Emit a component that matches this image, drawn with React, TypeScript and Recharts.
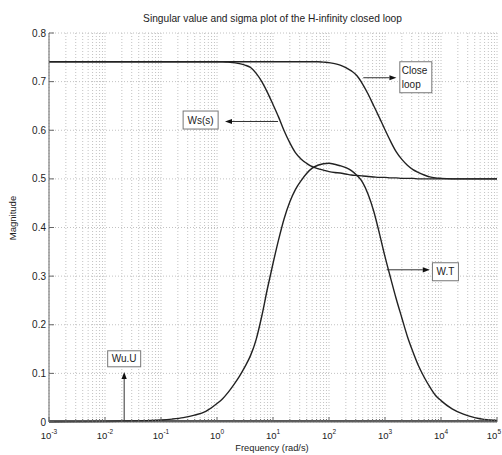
import React from 'react';
import {
  LineChart,
  Line,
  XAxis,
  YAxis,
  CartesianGrid,
  ReferenceLine,
  ReferenceDot
} from 'recharts';

// frequency grid (rad/s), ten points per decade where the curves move
const freq = [
  0.001, 0.01, 0.0316, 0.1, 0.158, 0.251, 0.398, 0.631,
  1, 1.26, 1.58, 2, 2.51, 3.16, 3.98, 5.01, 6.31, 7.94,
  10, 12.6, 15.8, 20, 25.1, 31.6, 39.8, 50.1, 63.1, 79.4,
  100, 126, 158, 200, 251, 316, 398, 501, 631, 794,
  1000, 1260, 1580, 2000, 2510, 3160, 3980, 5010, 6310, 7940,
  10000, 15800, 25100, 39800, 100000
];

const wsMag = [
  0.741, 0.741, 0.741, 0.741, 0.741, 0.741, 0.741, 0.741,
  0.741, 0.741, 0.740, 0.739, 0.737, 0.734, 0.729, 0.717, 0.700, 0.678,
  0.653, 0.627, 0.599, 0.574, 0.554, 0.541, 0.532, 0.525, 0.521, 0.518,
  0.515, 0.513, 0.512, 0.510, 0.508, 0.507, 0.506, 0.505, 0.504, 0.503,
  0.503, 0.502, 0.502, 0.501, 0.501, 0.501, 0.500, 0.500, 0.500, 0.500,
  0.500, 0.500, 0.500, 0.500, 0.500
];

const closeLoopMag = [
  0.741, 0.741, 0.741, 0.741, 0.741, 0.741, 0.741, 0.741,
  0.741, 0.741, 0.741, 0.741, 0.741, 0.741, 0.741, 0.741, 0.741, 0.741,
  0.741, 0.741, 0.741, 0.741, 0.741, 0.741, 0.741, 0.741, 0.741, 0.740,
  0.739, 0.737, 0.734, 0.729, 0.722, 0.712, 0.695, 0.674, 0.650, 0.626,
  0.601, 0.577, 0.556, 0.540, 0.528, 0.519, 0.513, 0.508, 0.504, 0.502,
  0.501, 0.500, 0.500, 0.500, 0.500
];

const wtMag = [
  0.000, 0.001, 0.002, 0.004, 0.006, 0.009, 0.014, 0.022,
  0.038, 0.048, 0.061, 0.077, 0.094, 0.114, 0.137, 0.170, 0.218, 0.274,
  0.326, 0.375, 0.418, 0.453, 0.478, 0.496, 0.511, 0.522, 0.528, 0.531,
  0.532, 0.530, 0.527, 0.523, 0.517, 0.507, 0.493, 0.468, 0.433, 0.388,
  0.340, 0.296, 0.254, 0.214, 0.176, 0.144, 0.115, 0.092, 0.072, 0.055,
  0.044, 0.027, 0.016, 0.009, 0.003
];

// Wu.U stays on the floor over the whole band
const wuFreq = [0.001, 1, 100000];
const wuMag = [0.002, 0.002, 0.002];

const decades = [0.001, 0.01, 0.1, 1, 10, 100, 1000, 10000, 100000];
const decadeExp = ['-3', '-2', '-1', '0', '1', '2', '3', '4', '5'];
const magTicks = [0, 0.1, 0.2, 0.3, 0.4, 0.5, 0.6, 0.7, 0.8];

// text boxes and arrows, anchored in (frequency, magnitude)
const notes = [
  { lines: ['Ws(s)'], f: 0.51, m: 0.621, w: 35, h: 18 },
  { lines: ['Close', 'loop'], f: 3550, m: 0.709, w: 32, h: 31 },
  { lines: ['W.T'], f: 12000, m: 0.309, w: 26, h: 18 },
  { lines: ['Wu.U'], f: 0.022, m: 0.13, w: 33, h: 16 }
];

const arrows = [
  { f1: 12.3, m1: 0.618, f2: 1.39, m2: 0.618 },
  { f1: 410, m1: 0.708, f2: 1600, m2: 0.708 },
  { f1: 1070, m1: 0.313, f2: 6300, m2: 0.313 },
  { f1: 0.022, m1: 0, f2: 0.022, m2: 0.103 }
];

const rows = freq.map((f, i) => ({
  f,
  ws: wsMag[i],
  loop: closeLoopMag[i],
  wt: wtMag[i]
}));

const wuRows = wuFreq.map((f, i) => ({ f, wu: wuMag[i] }));

// log grid: decades plus 2..9 inside each decade
const xTicks: number[] = [];
decades.forEach((d, i) => {
  xTicks.push(d);
  if (i < decades.length - 1) {
    for (let k = 2; k <= 9; k++) xTicks.push(+(d * k).toPrecision(3));
  }
});

const FONT = '"Liberation Sans", Arial, Helvetica, sans-serif';
const AXIS = '#666';
const INK = '#222';

const decadeIndex = (v: number) => decades.findIndex((d) => Math.abs(d - v) / d < 1e-6);

const BottomTick = (props: any) => {
  const { x, y, payload } = props;
  const idx = decadeIndex(payload.value);
  const len = idx >= 0 ? 5 : 3;
  const last = idx === decades.length - 1;
  return (
    <g>
      <line x1={x} y1={y} x2={x} y2={y - len} stroke={AXIS} />
      {idx >= 0 && (
        <text
          x={last ? 501 : x}
          y={y + 17}
          textAnchor={last ? 'end' : 'middle'}
          fontSize={9.5}
          fill={INK}
          fontFamily={FONT}
        >
          10
          <tspan dy={-5} fontSize={6.5}>{decadeExp[idx]}</tspan>
        </text>
      )}
    </g>
  );
};

const TopTick = (props: any) => {
  const { x, y, payload } = props;
  const len = decadeIndex(payload.value) >= 0 ? 5 : 3;
  return <line x1={x} y1={y} x2={x} y2={y + len} stroke={AXIS} />;
};

const LeftTick = (props: any) => {
  const { x, y, payload } = props;
  const v = payload.value;
  return (
    <g>
      <line x1={x} y1={y} x2={x + 5} y2={y} stroke={AXIS} />
      <text x={x - 3} y={y + 3.5} textAnchor="end" fontSize={10} fill={INK} fontFamily={FONT}>
        {v === 0 ? '0' : v.toFixed(1)}
      </text>
    </g>
  );
};

const RightTick = (props: any) => {
  const { x, y } = props;
  return <line x1={x} y1={y} x2={x - 5} y2={y} stroke={AXIS} />;
};

const noteShape = (lines: string[], w: number, h: number) => (p: any) => {
  const { cx, cy } = p;
  return (
    <g>
      <rect x={cx - w / 2} y={cy - h / 2} width={w} height={h} fill="#fff" stroke="#777" strokeWidth={1} />
      {lines.map((t, i) => (
        <text
          key={t}
          x={lines.length > 1 ? cx - w / 2 + 2 : cx}
          y={cy - ((lines.length - 1) * 14) / 2 + i * 14 + 3.5}
          textAnchor={lines.length > 1 ? 'start' : 'middle'}
          fontSize={10}
          fill={INK}
          fontFamily={FONT}
        >
          {t}
        </text>
      ))}
    </g>
  );
};

const ArrowShape = (p: any) => {
  const { x1, y1, x2, y2 } = p;
  const a = Math.atan2(y2 - y1, x2 - x1);
  const L = 7;
  const W = 2.6;
  const bx = x2 - L * Math.cos(a);
  const by = y2 - L * Math.sin(a);
  const nx = -Math.sin(a) * W;
  const ny = Math.cos(a) * W;
  return (
    <g>
      <line x1={x1} y1={y1} x2={bx} y2={by} stroke="#333" strokeWidth={1} />
      <polygon points={`${x2},${y2} ${bx + nx},${by + ny} ${bx - nx},${by - ny}`} fill="#111" />
    </g>
  );
};

export default function App() {
  return (
    <div style={{ position: 'absolute', left: 0, top: 0, width: 502, height: 455, background: '#fff', fontFamily: FONT }}>
      <div style={{ position: 'absolute', left: 0, width: 545, top: 13, textAlign: 'center', fontSize: 10.2, color: INK }}>
        Singular value and sigma plot of the H-infinity closed loop
      </div>
      <div style={{ position: 'absolute', left: 272, top: 443, transform: 'translateX(-50%)', fontSize: 9.3, color: INK, whiteSpace: 'nowrap' }}>
        Frequency (rad/s)
      </div>
      <div
        style={{
          position: 'absolute',
          left: 13,
          top: 218,
          transform: 'translate(-50%, -50%) rotate(-90deg)',
          fontSize: 9.5,
          color: INK,
          whiteSpace: 'nowrap',
          lineHeight: '10px'
        }}
      >
        Magnitude
      </div>
      <LineChart width={502} height={455} data={rows} margin={{ top: 33, right: 5, bottom: 0, left: 0 }}>
        <CartesianGrid stroke="#c2c2c2" strokeDasharray="1 2" />
        <XAxis
          dataKey="f"
          type="number"
          scale="log"
          domain={[0.001, 100000]}
          allowDataOverflow
          ticks={xTicks}
          interval={0}
          height={33}
          tickSize={0}
          tickMargin={0}
          tickLine={false}
          axisLine={{ stroke: AXIS }}
          tick={BottomTick}
        />
        <XAxis
          xAxisId="top"
          orientation="top"
          dataKey="f"
          type="number"
          scale="log"
          domain={[0.001, 100000]}
          allowDataOverflow
          ticks={xTicks}
          interval={0}
          height={0}
          tickSize={0}
          tickMargin={0}
          tickLine={false}
          axisLine={{ stroke: AXIS }}
          tick={TopTick}
        />
        <YAxis
          type="number"
          domain={[0, 0.8]}
          ticks={magTicks}
          interval={0}
          width={49}
          tickSize={0}
          tickMargin={0}
          tickLine={false}
          axisLine={{ stroke: AXIS }}
          tick={LeftTick}
        />
        <YAxis
          yAxisId="right"
          orientation="right"
          type="number"
          domain={[0, 0.8]}
          ticks={magTicks}
          interval={0}
          width={0}
          tickSize={0}
          tickMargin={0}
          tickLine={false}
          axisLine={{ stroke: AXIS }}
          tick={RightTick}
        />
        <Line data={wuRows} dataKey="wu" type="monotone" stroke={INK} strokeWidth={1.4} dot={false} isAnimationActive={false} />
        <Line dataKey="wt" type="monotone" stroke={INK} strokeWidth={1.4} dot={false} isAnimationActive={false} />
        <Line dataKey="ws" type="monotone" stroke={INK} strokeWidth={1.4} dot={false} isAnimationActive={false} />
        <Line dataKey="loop" type="monotone" stroke={INK} strokeWidth={1.4} dot={false} isAnimationActive={false} />
        {arrows.map((a, i) => (
          <ReferenceLine
            key={`arrow-${i}`}
            segment={[{ x: a.f1, y: a.m1 }, { x: a.f2, y: a.m2 }]}
            shape={ArrowShape}
          />
        ))}
        {notes.map((n) => (
          <ReferenceDot key={n.lines.join(' ')} x={n.f} y={n.m} r={1} shape={noteShape(n.lines, n.w, n.h)} />
        ))}
      </LineChart>
    </div>
  );
}
